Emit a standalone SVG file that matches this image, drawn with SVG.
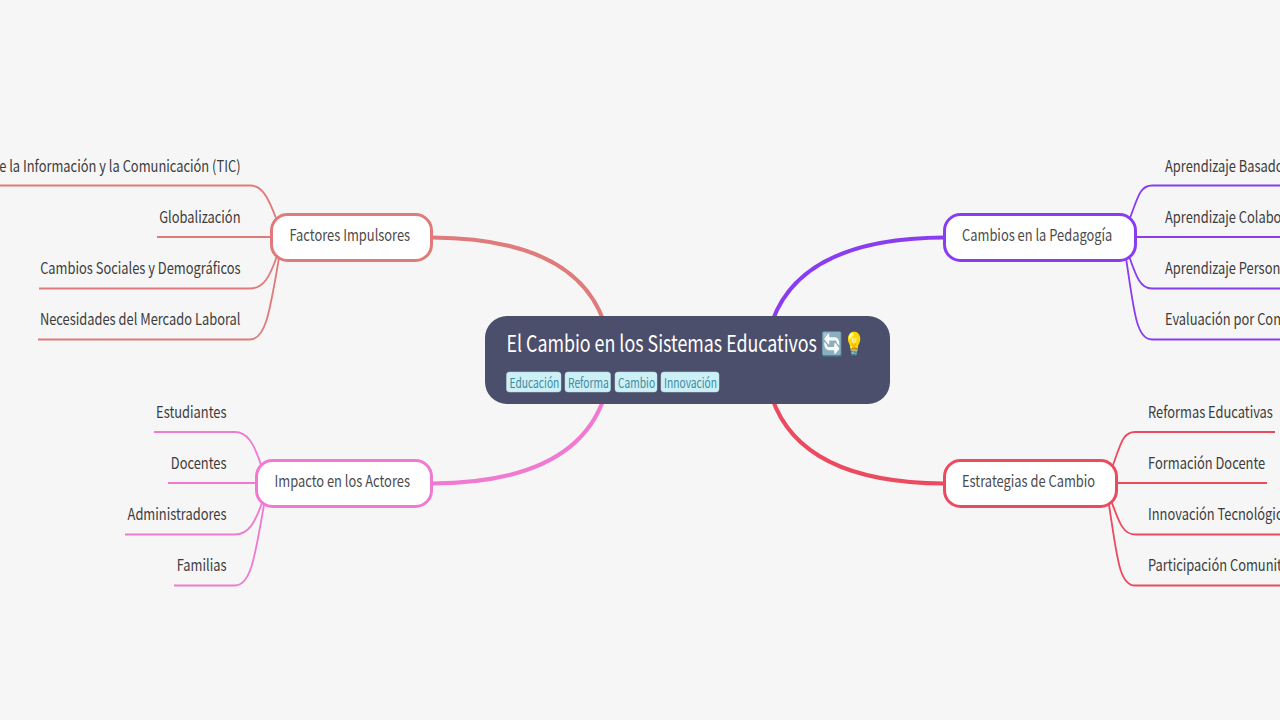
<svg xmlns="http://www.w3.org/2000/svg" width="1280" height="720" viewBox="0 0 1280 720">
<style>
text{font-family:"Noto Sans CJK SC","Noto Sans",sans-serif;}
.main{fill:none;stroke-width:4;stroke-linecap:round}
.leaf{fill:none;stroke-width:1.8}
.box{fill:#fff;stroke-width:3}
.lab{font-size:16px;fill:#4b4b4b}
.lt{font-size:16px;fill:#3c3c3c}
.end{text-anchor:end}
.tag{fill:#cdf0f6;stroke:#b5dfe8;stroke-width:.5}
.tt{font-size:13.5px;fill:#3d8aa0}
.red{stroke:#e07b7b}.pur{stroke:#8a3cf0}.pnk{stroke:#f07ad2}.crm{stroke:#ec4a5e}
</style>
<rect width="1280" height="720" fill="#f6f6f6"/>
<g id="connectors">
<path class="main red" d="M432,237.500C520,238 583,262 604,322"/>
<path class="main pur" d="M944,237.500C856,238 793,262 772,322"/>
<path class="main pnk" d="M432,483.500C520,483 583,459 604,398"/>
<path class="main crm" d="M944,483.500C856,483 793,459 772,398"/>
<g class="red">
<path class="leaf" d="M-2,185.500H250C262,185.500 268,197 276,218"/>
<path class="leaf" d="M157,237H272"/>
<path class="leaf" d="M39,288.500H250C264,288.500 270,276 277,256"/>
<path class="leaf" d="M38,339.500H250C266,339.500 270,310 279,258"/>
</g>
<g class="pur">
<path class="leaf" d="M1282,185.500H1152C1140,185.500 1138,197 1130,218"/>
<path class="leaf" d="M1134,237H1282"/>
<path class="leaf" d="M1282,288.500H1152C1140,288.500 1136,276 1129,256"/>
<path class="leaf" d="M1282,339.500H1152C1136,339.500 1134,310 1126,258"/>
</g>
<g class="pnk">
<path class="leaf" d="M154,432H235C247,432 254,443 261,465"/>
<path class="leaf" d="M168,483H257"/>
<path class="leaf" d="M125,534.500H235C249,534.500 255,522 262,503"/>
<path class="leaf" d="M174,585.500H235C251,585.500 255,556 264,505"/>
</g>
<g class="crm">
<path class="leaf" d="M1275,432H1135C1123,432 1121,443 1113,465"/>
<path class="leaf" d="M1116,483H1267"/>
<path class="leaf" d="M1282,534.500H1135C1123,534.500 1119,522 1112,503"/>
<path class="leaf" d="M1282,585.500H1135C1119,585.500 1117,556 1109,505"/>
</g>
</g>
<g id="root">
<rect x="485" y="316" width="405" height="88" rx="22" fill="#4c4f6b"/>
<g transform="translate(506.500 0) scale(.775 1)"><text x="0" y="352" font-size="23px" fill="#fff">El Cambio en los Sistemas Educativos 🔄💡</text></g>
<rect class="tag" x="506.500" y="372" width="54.500" height="20" rx="3"/><g transform="translate(509.500 0) scale(.76 1)"><text class="tt" x="0" y="388">Educación</text></g>
<rect class="tag" x="565" y="372" width="45.500" height="20" rx="3"/><g transform="translate(568 0) scale(.76 1)"><text class="tt" x="0" y="388">Reforma</text></g>
<rect class="tag" x="615" y="372" width="42" height="20" rx="3"/><g transform="translate(618 0) scale(.76 1)"><text class="tt" x="0" y="388">Cambio</text></g>
<rect class="tag" x="661" y="372" width="58" height="20" rx="3"/><g transform="translate(664 0) scale(.76 1)"><text class="tt" x="0" y="388">Innovación</text></g>
</g>
<g id="n-factores"><rect class="box red" x="271.500" y="214.500" width="160" height="46" rx="16"/><g transform="translate(289.500 0) scale(.805 1)"><text class="lab" x="0" y="241.300">Factores Impulsores</text></g></g>
<g id="n-pedagogia"><rect class="box pur" x="944.500" y="214.500" width="191" height="46" rx="16"/><g transform="translate(962 0) scale(.805 1)"><text class="lab" x="0" y="241.300">Cambios en la Pedagogía</text></g></g>
<g id="n-actores"><rect class="box pnk" x="256.500" y="460.500" width="175" height="46" rx="16"/><g transform="translate(274.500 0) scale(.805 1)"><text class="lab" x="0" y="487.300">Impacto en los Actores</text></g></g>
<g id="n-estrategias"><rect class="box crm" x="944.500" y="460.500" width="172" height="46" rx="16"/><g transform="translate(962 0) scale(.805 1)"><text class="lab" x="0" y="487.300">Estrategias de Cambio</text></g></g>
<g id="leaves-factores" transform="translate(240.500 0) scale(.805 1)">
<text class="lt end" x="0" y="172">e la Información y la Comunicación (TIC)</text>
<text class="lt end" x="0" y="223">Globalización</text>
<text class="lt end" x="0" y="274">Cambios Sociales y Demográficos</text>
<text class="lt end" x="0" y="325">Necesidades del Mercado Laboral</text>
</g>
<g id="leaves-pedagogia" transform="translate(1165 0) scale(.805 1)">
<text class="lt" x="0" y="172">Aprendizaje Basado</text>
<text class="lt" x="0" y="223">Aprendizaje Colabo</text>
<text class="lt" x="0" y="274">Aprendizaje Person</text>
<text class="lt" x="0" y="325">Evaluación por Con</text>
</g>
<g id="leaves-actores" transform="translate(226.500 0) scale(.805 1)">
<text class="lt end" x="0" y="418">Estudiantes</text>
<text class="lt end" x="0" y="469">Docentes</text>
<text class="lt end" x="0" y="520">Administradores</text>
<text class="lt end" x="0" y="571">Familias</text>
</g>
<g id="leaves-estrategias" transform="translate(1148 0) scale(.805 1)">
<text class="lt" x="0" y="418">Reformas Educativas</text>
<text class="lt" x="0" y="469">Formación Docente</text>
<text class="lt" x="0" y="520">Innovación Tecnológic</text>
<text class="lt" x="0" y="571">Participación Comunit</text>
</g>
</svg>
